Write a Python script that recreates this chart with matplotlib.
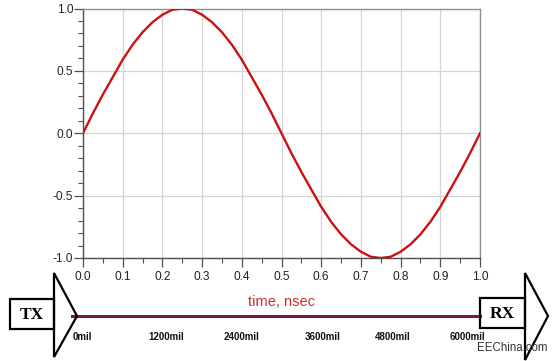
import matplotlib
matplotlib.use("Agg")
import matplotlib.pyplot as plt
from matplotlib.patches import Polygon, Rectangle
from matplotlib.ticker import MultipleLocator

# ---- data ----
time_ns = [i * 0.025 for i in range(41)]
signal = [0.00, 0.16, 0.31, 0.45, 0.59, 0.71, 0.81, 0.89, 0.95, 0.99, 1.00,
          0.99, 0.95, 0.89, 0.81, 0.71, 0.59, 0.45, 0.31, 0.16, 0.00,
          -0.16, -0.31, -0.45, -0.59, -0.71, -0.81, -0.89, -0.95, -0.99, -1.00,
          -0.99, -0.95, -0.89, -0.81, -0.71, -0.59, -0.45, -0.31, -0.16, 0.00]
x_ticks = [0.0, 0.1, 0.2, 0.3, 0.4, 0.5, 0.6, 0.7, 0.8, 0.9, 1.0]
y_ticks = [-1.0, -0.5, 0.0, 0.5, 1.0]
mil_labels = ["0mil", "1200mil", "2400mil", "3600mil", "4800mil", "6000mil"]
x_label = "time, nsec"

W, H = 554, 361
fig = plt.figure(figsize=(W / 100, H / 100), dpi=100)
plt.rcParams['font.family'] = ['Liberation Sans', 'DejaVu Sans']

# overlay in pixel coords for the TX/RX graphics
ov = fig.add_axes([0, 0, 1, 1])
ov.set_xlim(0, W)
ov.set_ylim(H, 0)
ov.axis('off')

ax = fig.add_axes([83 / W, 1 - 258 / H, (480 - 83) / W, (258 - 8.5) / H])
ax.plot(time_ns, signal, color='#cc1111', lw=1.7, zorder=3)
ax.set_xlim(0, 1)
ax.set_ylim(-1, 1)
ax.set_xticks(x_ticks)
ax.set_yticks(y_ticks)
ax.set_xticklabels([f"{v:.1f}" for v in x_ticks])
ax.set_yticklabels([f"{v:.1f}" for v in y_ticks])
ax.xaxis.set_minor_locator(MultipleLocator(0.05))
ax.yaxis.set_minor_locator(MultipleLocator(0.1))
ax.grid(True, which='major', color='#d4d4d4', lw=0.9)
ax.set_axisbelow(True)
ax.tick_params(which='major', direction='out', length=6.5, width=0.9, color='#505050',
               labelsize=8.6, labelcolor='#222222')
ax.tick_params(axis='x', which='major', pad=2.5)
ax.tick_params(axis='y', which='major', pad=0.5)
ax.tick_params(which='minor', direction='out', length=3.5, width=0.8, color='#505050')
for s in ['left', 'bottom']:
    ax.spines[s].set_color('#505050')
    ax.spines[s].set_linewidth(1.0)
for s in ['top', 'right']:
    ax.spines[s].set_color('#909090')
    ax.spines[s].set_linewidth(1.0)

# transmission line
ov.plot([72, 480], [316, 316], color='#7a1a3a', lw=2.2, zorder=2)
# TX box and arrow
ov.add_patch(Rectangle((10, 299), 44, 30, fill=False, ec='black', lw=1.6, zorder=3))
ov.add_patch(Polygon([(54, 273), (77, 316), (54, 357)], closed=True, fill=False,
                     ec='black', lw=1.6, zorder=3))
ov.text(32, 315, "TX", family=['Liberation Serif'], weight='bold', fontsize=12.5,
        ha='center', va='center', zorder=4)
# RX box and arrow
ov.add_patch(Rectangle((480, 298), 45, 30, fill=False, ec='black', lw=1.6, zorder=3))
ov.add_patch(Polygon([(525, 273), (548, 316), (525, 360)], closed=True, fill=False,
                     ec='black', lw=1.6, zorder=3))
ov.text(502, 314, "RX", family=['Liberation Serif'], weight='bold', fontsize=12.5,
        ha='center', va='center', zorder=4)

ov.text(281, 302, x_label, color='#d02a2a', fontsize=10.5, ha='center', va='center')

mil_x = [82, 166, 242, 323, 393, 468]
for xp, lab in zip(mil_x, mil_labels):
    ov.text(xp, 337, lab, fontsize=7, weight='bold', ha='center', va='center',
            color='#111111')

ov.text(512, 348, "EEChina.com", fontsize=8.3, color='#333333', ha='center', va='center')

fig.savefig("out.png", dpi=100)
